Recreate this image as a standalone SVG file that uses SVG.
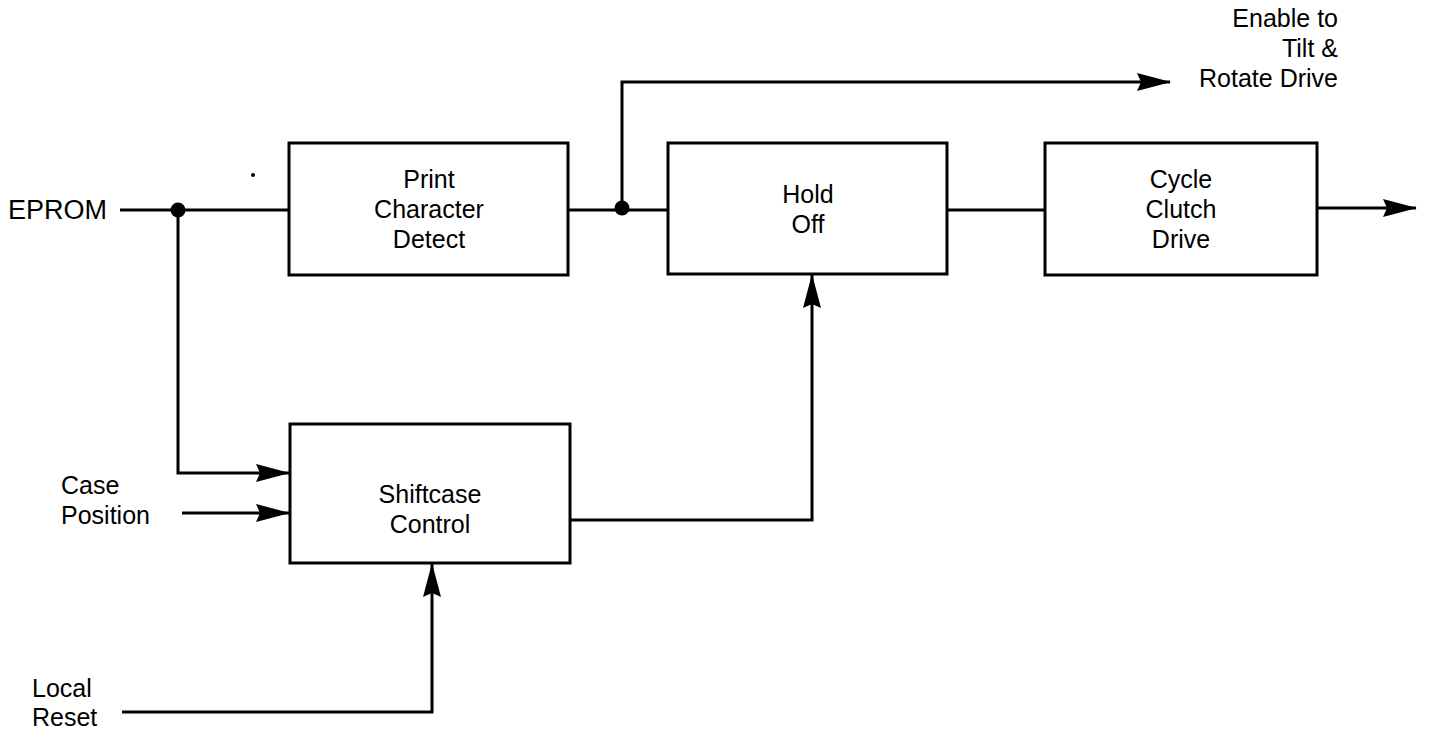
<svg xmlns="http://www.w3.org/2000/svg" width="1429" height="732" viewBox="0 0 1429 732">
<defs>
<style>
.box{fill:#fff;stroke:#000;stroke-width:3}
.w{fill:none;stroke:#000;stroke-width:3;stroke-linejoin:miter}
.t{font-family:"Liberation Sans",Arial,sans-serif;font-size:25px;fill:#000}
.c{text-anchor:middle}
.r{text-anchor:end}
</style>
<marker id="ah" viewBox="0 0 34 18" refX="33" refY="9" markerWidth="34" markerHeight="18" markerUnits="userSpaceOnUse" orient="auto">
<path d="M0,0 L34,9 L0,18 L4,9 Z" fill="#000"/>
</marker>
</defs>
<rect width="1429" height="732" fill="#fff"/>
<g id="connectors">
<path class="w" d="M120,210 H289"/>
<path class="w" d="M178,210 V473 H289" marker-end="url(#ah)"/>
<path class="w" d="M182,513 H289" marker-end="url(#ah)"/>
<path class="w" d="M122,712 H432 V564" marker-end="url(#ah)"/>
<path class="w" d="M570,520 H812 V275" marker-end="url(#ah)"/>
<path class="w" d="M568,210 H668"/>
<path class="w" d="M622,210 V82 H1170" marker-end="url(#ah)"/>
<path class="w" d="M947,210 H1045"/>
<path class="w" d="M1317,208 H1416" marker-end="url(#ah)"/>
<circle cx="178" cy="210" r="7.5" fill="#000"/>
<circle cx="622" cy="208" r="7.5" fill="#000"/>
</g>
<g id="print-character-detect">
<rect class="box" x="289" y="143" width="279" height="132"/>
<text class="t c" x="429" y="188">Print</text>
<text class="t c" x="429" y="218">Character</text>
<text class="t c" x="429" y="248">Detect</text>
</g>
<g id="hold-off">
<rect class="box" x="668" y="143" width="279" height="131"/>
<text class="t c" x="808" y="203">Hold</text>
<text class="t c" x="808" y="233">Off</text>
</g>
<g id="cycle-clutch-drive">
<rect class="box" x="1045" y="143" width="272" height="132"/>
<text class="t c" x="1181" y="188">Cycle</text>
<text class="t c" x="1181" y="218">Clutch</text>
<text class="t c" x="1181" y="248">Drive</text>
</g>
<g id="shiftcase-control">
<rect class="box" x="290" y="424" width="280" height="139"/>
<text class="t c" x="430" y="503">Shiftcase</text>
<text class="t c" x="430" y="533">Control</text>
</g>
<g id="labels">
<text class="t" x="8" y="219" style="font-size:27px">EPROM</text>
<text class="t" x="61" y="494">Case</text>
<text class="t" x="61" y="524">Position</text>
<text class="t" x="32" y="697">Local</text>
<text class="t" x="32" y="726">Reset</text>
<text class="t r" x="1338" y="27">Enable to</text>
<text class="t r" x="1338" y="57">Tilt &amp;</text>
<text class="t r" x="1338" y="87">Rotate Drive</text>
</g>
<circle cx="253" cy="175" r="2" fill="#000"/>
</svg>
